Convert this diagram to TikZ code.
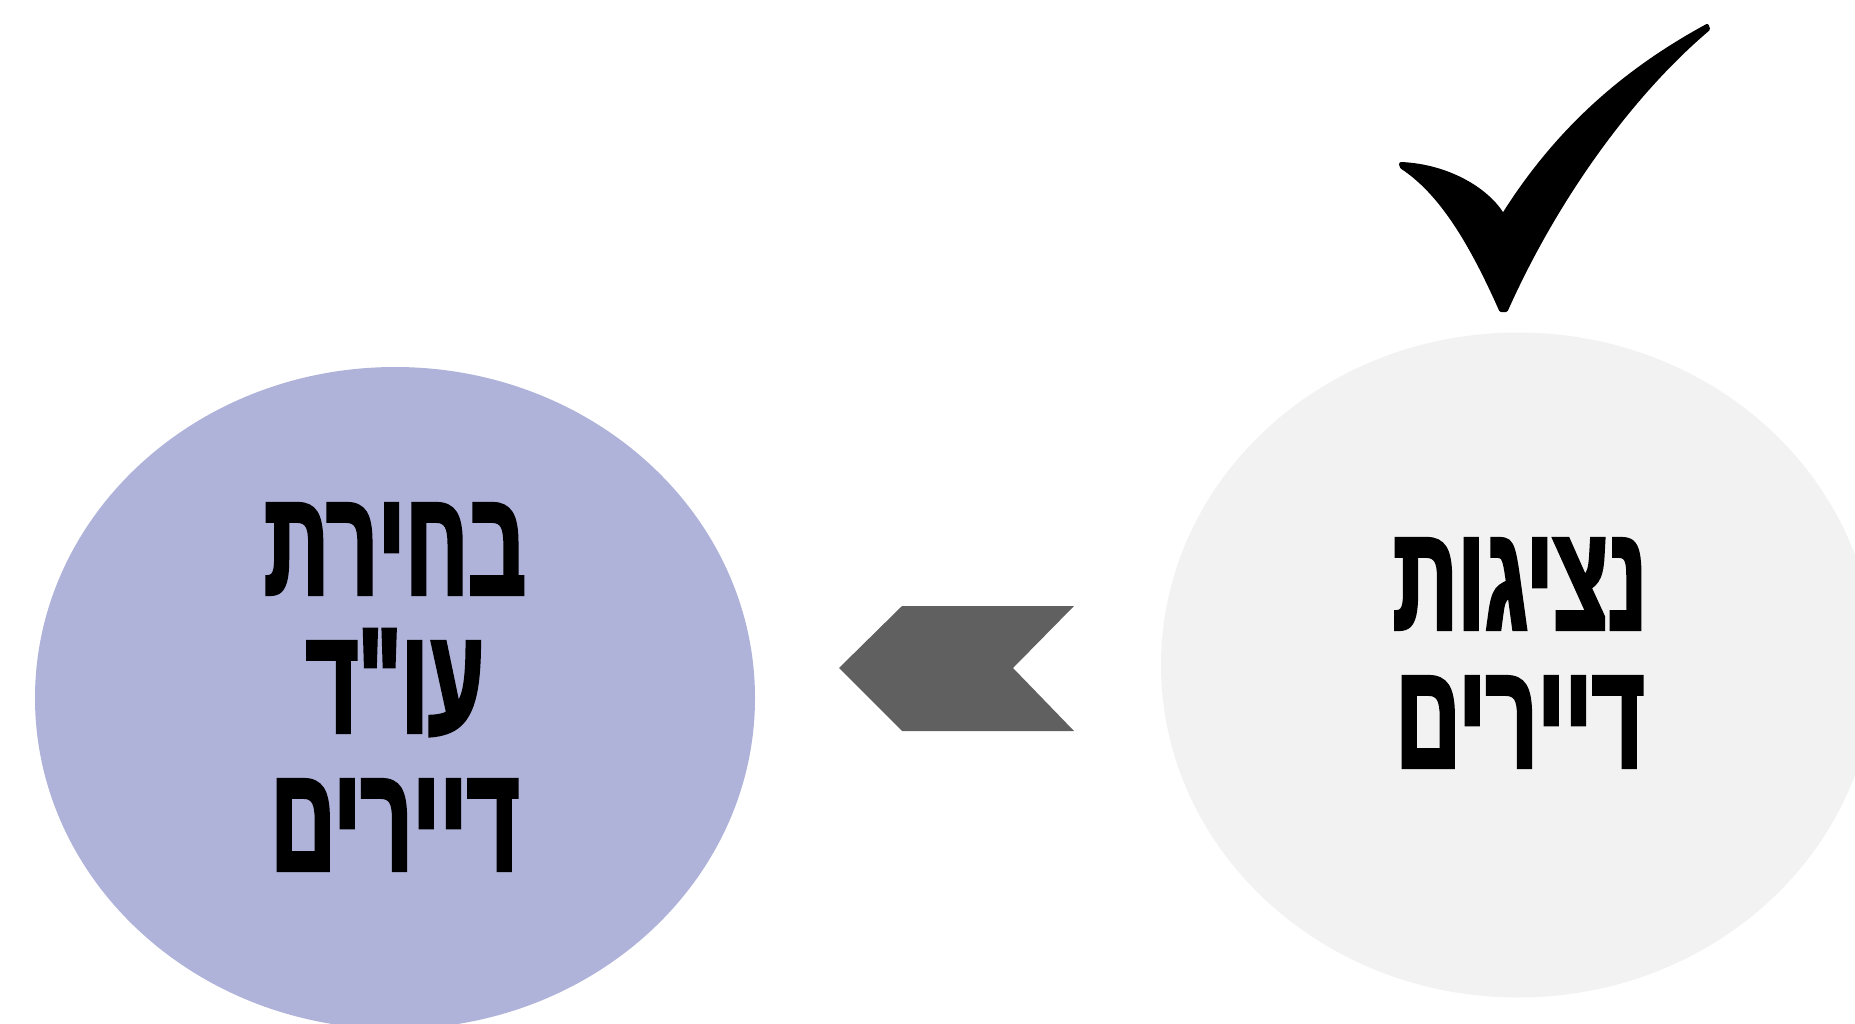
\documentclass[tikz,border=0pt]{standalone}
\usepackage{fontspec}
\usetikzlibrary{shapes.geometric}
\TeXXeTstate=1
\newfontfamily\hebfont[Script=Hebrew,FakeStretch=0.60,FakeBold=2.2,BoldFont={Liberation Sans Bold}]{Liberation Sans Bold}
\definecolor{bubbleblue}{RGB}{175,178,217}
\definecolor{bubblegrey}{RGB}{242,242,242}
\definecolor{chevrongrey}{RGB}{96,96,96}

\begin{document}
\begin{tikzpicture}[x=1pt,y=-1pt,
  bubble/.style={ellipse, inner sep=0pt, draw=none},
  label/.style={font=\hebfont\fontsize{150}{138}\selectfont, align=center, text=black, inner sep=0pt}]
  \useasboundingbox (0,0) rectangle (1855,1023);
  \clip (0,0) rectangle (1855,1023);

  % the two stages
  \node[bubble, fill=bubbleblue, minimum width=720pt, minimum height=662pt] (choice) at (395,698) {};
  \node[bubble, fill=bubblegrey, minimum width=714pt, minimum height=665pt] (reps) at (1518,665) {};

  \node[label] (choicetext) at (395,687) {\beginR בחירת\endR\\\beginR עו"ד\endR\\\beginR דיירים\endR};
  \node[label] (repstext) at (1520,653) {\beginR נציגות\endR\\\beginR דיירים\endR};

  % chevron pointing from the right stage to the left one
  \coordinate (tip) at (839,668);
  \coordinate (notch) at (1013,668);
  \fill[chevrongrey] (tip) -- (902,606) -- (1074,606) -- (notch) -- (1074,731) -- (902,731) -- cycle;

  % check mark above the right stage
  \fill[black, draw=black, line width=4pt, line join=round]
    (1401,164) .. controls (1448,166) and (1488,190) .. (1503,216)
    .. controls (1560,125) and (1630,68) .. (1707,26)
    -- (1708,29)
    .. controls (1630,95) and (1555,200) .. (1506,310)
    -- (1501,310)
    .. controls (1470,240) and (1440,192) .. (1402,167) -- cycle;
\end{tikzpicture}
\end{document}
